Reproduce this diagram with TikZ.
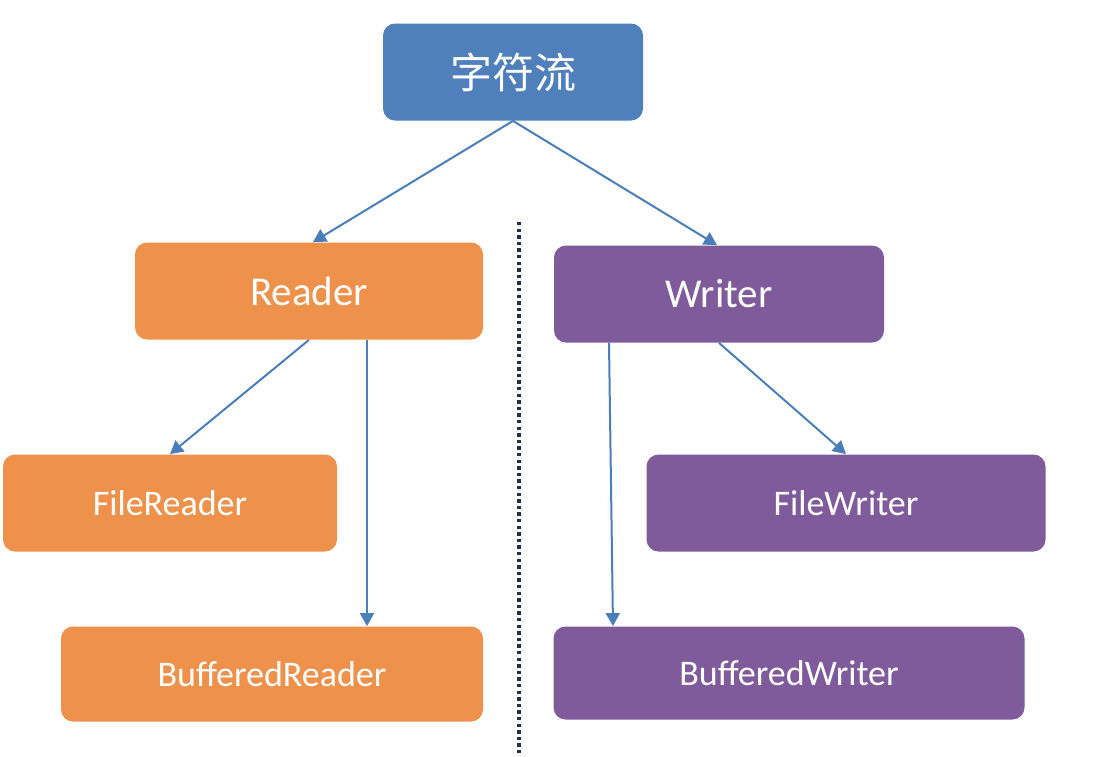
\documentclass[tikz,border=0pt]{standalone}
\usepackage{fontspec}
\setmainfont{Carlito}
\newfontfamily\cjk{Noto Sans CJK SC}
\usepackage{tikz}
\usetikzlibrary{arrows.meta}
\definecolor{topblue}{HTML}{5080BB}
\definecolor{rdorange}{HTML}{EE914A}
\definecolor{wrpurple}{HTML}{7F5B9C}
\definecolor{arrowblue}{HTML}{4A7EBB}
\definecolor{sepnavy}{HTML}{1F2F4F}

\begin{document}
\begin{tikzpicture}[
    x=0.5pt, y=-0.5pt,
    box/.style={
        rounded corners=6pt,
        inner sep=0pt,
        text=white,
        font=\fontsize{18}{20}\selectfont
    },
    big/.style={font=\fontsize{20.5}{22}\selectfont},
    link/.style={
        draw=arrowblue,
        line width=1pt,
        -{Triangle[width=7pt,length=6.5pt]}
    }
]
    \useasboundingbox (0,0) rectangle (1104,756);

    \node (root) at (513,72) [box, fill=topblue, minimum width=130pt, minimum height=48.5pt,
        font=\cjk\fontsize{21}{24}\selectfont] {字符流};

    % Reader side
    \node (reader) at (309,291) [box, big, fill=rdorange, minimum width=174pt, minimum height=48.5pt] {Reader};
    \node (freader) at (170,503) [box, fill=rdorange, minimum width=167pt, minimum height=48.5pt] {FileReader};
    \node (breader) at (272,674) [box, fill=rdorange, minimum width=211pt, minimum height=47.5pt] {BufferedReader};

    % Writer side
    \node (writer) at (719,294) [box, big, fill=wrpurple, minimum width=165pt, minimum height=48.5pt] {Writer};
    \node (fwriter) at (846,503) [box, fill=wrpurple, minimum width=199.5pt, minimum height=48.5pt] {FileWriter};
    \node (bwriter) at (789,673) [box, fill=wrpurple, minimum width=235.5pt, minimum height=46.5pt] {BufferedWriter};

    \draw[link] (root.south) -- ([xshift=2pt]reader.north);
    \draw[link] (root.south) -- ([xshift=-1pt]writer.north);

    \draw[link] (reader.south) -- (freader.north);
    \draw[link] ([xshift=29pt]reader.south) -- ([xshift=47.5pt]breader.north);
    \draw[link] ([xshift=-55pt]writer.south) -- ([xshift=-88pt]bwriter.north);
    \draw[link] (writer.south) -- (fwriter.north);

    \coordinate (sepTop) at (519,222);
    \coordinate (sepBot) at (519,756);
    \draw[line width=1.7pt, dash pattern=on 1.7pt off 1.6pt, sepnavy] (sepTop) -- (sepBot);

\end{tikzpicture}
\end{document}
